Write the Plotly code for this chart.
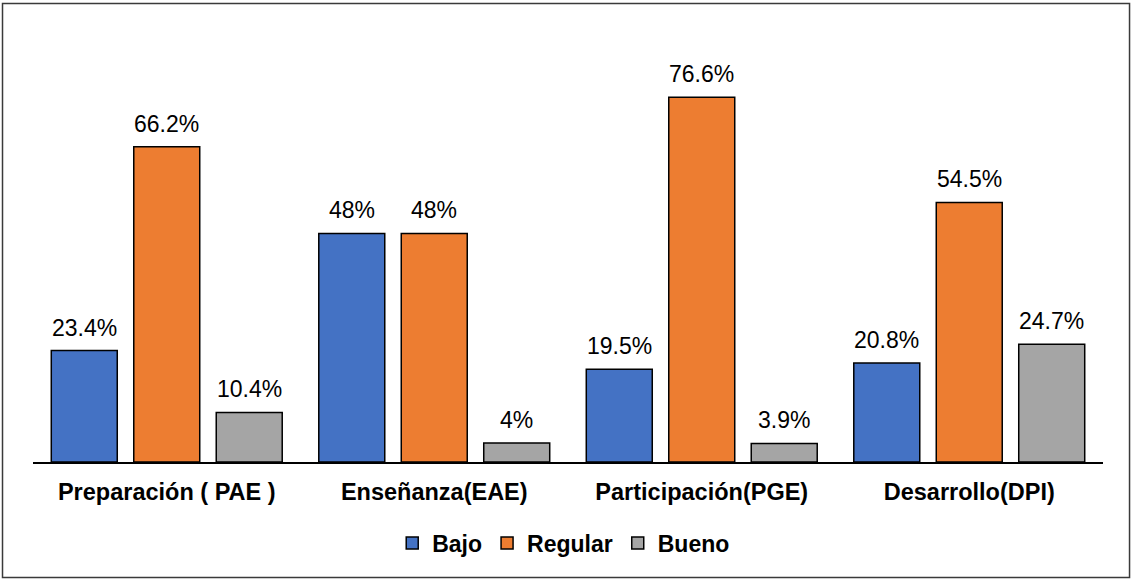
import plotly.graph_objects as go

# Dimensiones evaluadas y niveles
categorias = ["Preparación ( PAE )", "Enseñanza(EAE)", "Participación(PGE)", "Desarrollo(DPI)"]
bajo = [23.4, 48, 19.5, 20.8]
regular = [66.2, 48, 76.6, 54.5]
bueno = [10.4, 4, 3.9, 24.7]

series = [
    ("Bajo", bajo, "#4472C4"),
    ("Regular", regular, "#ED7D31"),
    ("Bueno", bueno, "#A5A5A5"),
]

FONT = "Liberation Sans, Arial, sans-serif"
BARGAP = 0.075
BARGROUPGAP = 0.2

fig = go.Figure()
for nombre, valores, color in series:
    fig.add_trace(go.Bar(
        name=nombre,
        x=categorias,
        y=valores,
        marker=dict(color=color, line=dict(color="#000000", width=1.5)),
        hoverinfo="skip",
    ))

# Etiquetas de porcentaje sobre cada barra (centro de cada barra dentro del grupo)
n = len(series)
slot = (1 - BARGAP) / n
annotations = []
for k, (nombre, valores, color) in enumerate(series):
    desplazamiento = (k - (n - 1) / 2) * slot
    for i, v in enumerate(valores):
        annotations.append(dict(
            x=i + desplazamiento, y=v, xref="x", yref="y",
            text=f"{v:g}%", showarrow=False,
            yanchor="bottom", yshift=8,
            font=dict(family=FONT, size=23, color="#000000"),
        ))

fig.update_layout(
    width=1134, height=580,
    margin=dict(l=33, r=31, t=81, b=118),
    paper_bgcolor="white", plot_bgcolor="white",
    barmode="group", bargap=BARGAP, bargroupgap=BARGROUPGAP,
    font=dict(family=FONT, size=23, color="#000000"),
    annotations=annotations,
    legend=dict(
        orientation="h", x=0.496, xanchor="center", y=-0.2126, yanchor="middle",
        font=dict(family=FONT, size=23, color="#000000", weight="bold"),
        itemwidth=30, traceorder="normal",
    ),
    xaxis=dict(
        showline=True, linecolor="#000000", linewidth=1.5,
        showgrid=False, ticks="outside", ticklen=8, tickcolor="rgba(0,0,0,0)",
        tickfont=dict(family=FONT, size=23.5, color="#000000", weight="bold"),
    ),
    yaxis=dict(range=[0, 80], visible=False, showgrid=False, zeroline=False),
    shapes=[dict(
        type="rect", xref="paper", yref="paper",
        x0=-0.0285, x1=1.0248, y0=-0.3031, y1=1.2034,
        line=dict(color="#3a3a3a", width=1.5), fillcolor="rgba(0,0,0,0)",
    )],
)

fig.write_html("out.html")
